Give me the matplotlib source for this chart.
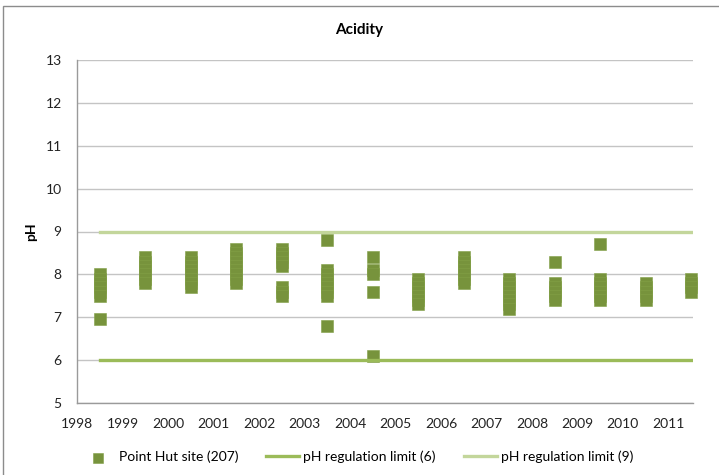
import matplotlib
matplotlib.use("Agg")
from matplotlib import pyplot as plt
from matplotlib.patches import Rectangle

# sampling years (points sit mid-year) and pH readings for each year
years = [1998, 1999, 2000, 2001, 2002, 2003, 2004,
         2005, 2006, 2007, 2008, 2009, 2010, 2011]
ph_1998 = [8.0, 7.9, 7.8, 7.7, 7.6, 7.5, 6.95]
ph_1999 = [8.4, 8.3, 8.2, 8.1, 8.0, 7.9, 7.8]
ph_2000 = [8.4, 8.3, 8.2, 8.1, 8.0, 7.9, 7.8, 7.7]
ph_2001 = [8.6, 8.5, 8.4, 8.3, 8.2, 8.1, 8.0, 7.9, 7.8]
ph_2002 = [8.6, 8.5, 8.4, 8.3, 8.2, 7.7, 7.6, 7.5]
ph_2003 = [8.8, 8.1, 8.0, 7.9, 7.8, 7.7, 7.6, 7.5, 6.8]
ph_2004 = [8.4, 8.1, 8.0, 7.6, 6.1]
ph_2005 = [7.9, 7.8, 7.7, 7.6, 7.5, 7.4, 7.3]
ph_2006 = [8.4, 8.3, 8.2, 8.1, 8.0, 7.9, 7.8]
ph_2007 = [7.9, 7.8, 7.7, 7.6, 7.5, 7.4, 7.3, 7.2]
ph_2008 = [8.3, 7.8, 7.7, 7.6, 7.5, 7.4]
ph_2009 = [8.7, 7.9, 7.8, 7.7, 7.6, 7.5, 7.4]
ph_2010 = [7.8, 7.7, 7.6, 7.5, 7.4]
ph_2011 = [7.9, 7.8, 7.7, 7.6]
ph_by_year = [ph_1998, ph_1999, ph_2000, ph_2001, ph_2002, ph_2003, ph_2004,
              ph_2005, ph_2006, ph_2007, ph_2008, ph_2009, ph_2010, ph_2011]

lower_limit = 6
upper_limit = 9
y_ticks = [5, 6, 7, 8, 9, 10, 11, 12, 13]

plt.rcParams["font.family"] = ["Lato", "DejaVu Sans"]

fig = plt.figure(figsize=(7.19, 4.75), dpi=100)
ax = fig.add_axes([77 / 719, 1 - 403 / 475, 615.5 / 719, 343 / 475])

xs, ys = [], []
for year, values in zip(years, ph_by_year):
    for v in values:
        xs.append(year + 0.5)
        ys.append(v)

ax.scatter(xs, ys, marker="s", s=70, color="#77933C",
           edgecolors="#82a046", linewidths=0.4, zorder=3, clip_on=False,
           label="Point Hut site (207)")

x_span = [years[0] + 0.5, years[-1] + 0.5]
ax.plot(x_span, [lower_limit, lower_limit], color="#9BBB59", lw=2.4,
        zorder=4, label="pH regulation limit (6)")
ax.plot(x_span, [upper_limit, upper_limit], color="#C3D69B", lw=2.4,
        zorder=4, label="pH regulation limit (9)")

ax.set_xlim(years[0], years[-1] + 0.53)
ax.set_ylim(5, 13)
ax.set_yticks(y_ticks)
ax.set_xticks(years)
ax.set_xticklabels([str(y) for y in years])
ax.tick_params(length=0, labelsize=10, colors="#222222", pad=11)
ax.grid(axis="y", color="#c4c4c4", lw=1)
ax.set_axisbelow(True)
for side in ["top", "right"]:
    ax.spines[side].set_visible(False)
for side in ["left", "bottom"]:
    ax.spines[side].set_color("#9a9a9a")
    ax.spines[side].set_linewidth(1)

ax.set_ylabel("pH", fontsize=10, fontweight="bold", labelpad=6)
fig.suptitle("Acidity", x=0.5, y=1 - 30 / 475, va="center",
             fontsize=11, fontweight="bold")

fig.legend(loc="center", bbox_to_anchor=(0.497, 1 - 457 / 475), ncol=3,
           frameon=False, fontsize=10, handlelength=2.4,
           handletextpad=0.3, columnspacing=2.0, scatterpoints=1,
           markerscale=0.85)

# chart area border
fig.patches.append(Rectangle((3 / 719, -0.2), 1.2, 1.2 - 6 / 475,
                             transform=fig.transFigure, fill=False,
                             edgecolor="#8c8c8c", lw=1))

fig.savefig("out.png", dpi=100)
